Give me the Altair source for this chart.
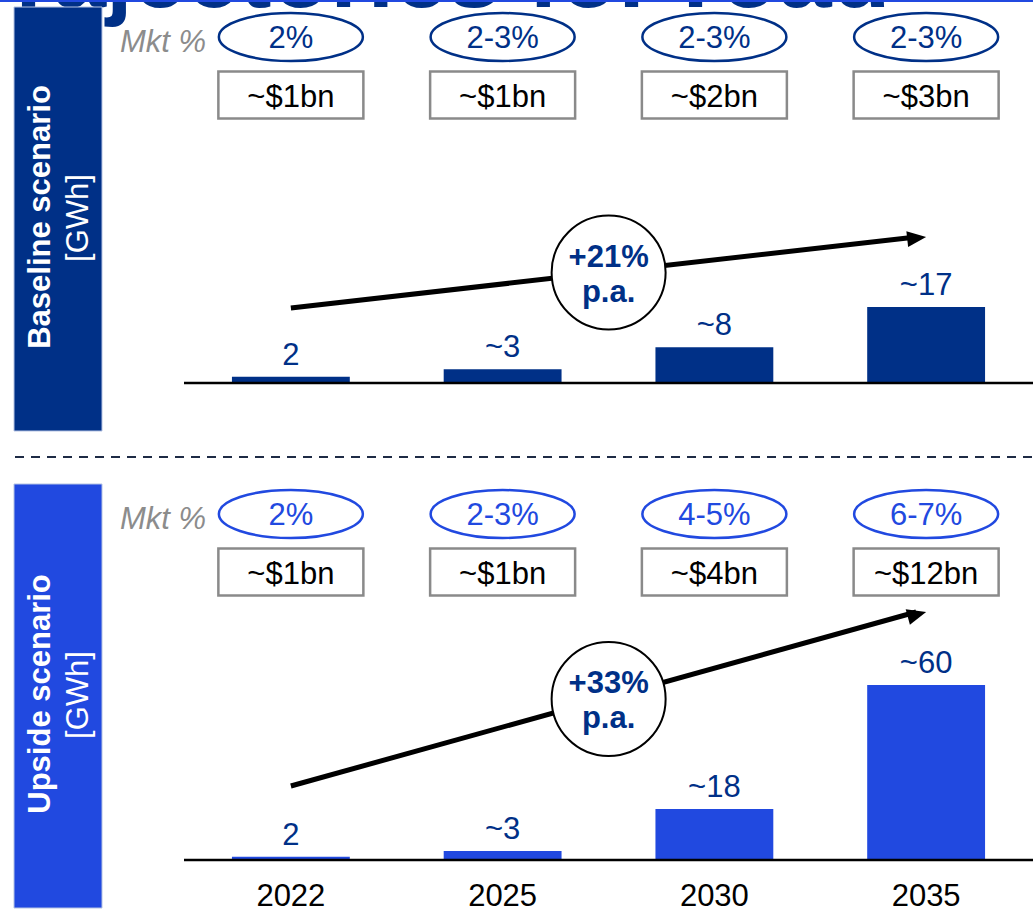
import altair as alt
import pandas as pd

# ---------------- data ----------------
years = ["2022", "2025", "2030", "2035"]
base_vals = [1.4, 3.1, 8.0, 17.0]
base_labels = ["2", "~3", "~8", "~17"]
up_vals = [1.1, 3.1, 17.5, 60.0]
up_labels = ["2", "~3", "~18", "~60"]
base_mkt = ["2%", "2-3%", "2-3%", "2-3%"]
up_mkt = ["2%", "2-3%", "4-5%", "6-7%"]
base_usd = ["~$1bn", "~$1bn", "~$2bn", "~$3bn"]
up_usd = ["~$1bn", "~$1bn", "~$4bn", "~$12bn"]
cagr = ["+21%", "+33%"]
cagr_unit = "p.a."
scenario_titles = ["Baseline scenario", "Upside scenario"]
unit_label = "[GWh]"
mkt_label = "Mkt %"
page_title = "Trajectories for road"

# ---------------- style ----------------
W, H, LEFT = 849, 913, 184
DARK = "#003087"
BRIGHT = "#2149E0"
FONT = "Liberation Sans"
FS = 31

XS = alt.Scale(domain=years, paddingInner=0.4434, paddingOuter=0.2264)

ELLIPSE = "M-1,0 A1,0.333 0 1,1 1,0 A1,0.333 0 1,1 -1,0 Z"
BOX = "M-1,-0.324 L1,-0.324 L1,0.324 L-1,0.324 Z"
HEAD = "M0,0 L-1,-0.42 L-1,0.42 Z"

one = pd.DataFrame({"a": [0]})


def panel(vals, labels, mkt, usd, growth, title, off, baseline, top, ymax,
          color, ell_color, ay0, ay1, head_angle):
    df = pd.DataFrame({"year": years, "value": vals, "label": labels,
                       "mkt": mkt, "usd": usd})
    X = alt.X("year:N", scale=XS, axis=None)
    YS = alt.Scale(domain=[0, ymax], range=[baseline, top])
    Y = alt.Y("value:Q", scale=YS, axis=None)
    layers = []
    # side box
    layers.append(alt.Chart(one).mark_rect(color=color, stroke="#b5c3e3", strokeWidth=1).encode(
        x=alt.value(14 - LEFT), x2=alt.value(102 - LEFT),
        y=alt.value(7 + off), y2=alt.value(431 + off)))
    layers.append(alt.Chart(pd.DataFrame({"t": [title]})).mark_text(
        angle=270, font=FONT, fontSize=FS, fontWeight="bold", color="white",
        align="center", baseline="middle").encode(
        x=alt.value(41 - LEFT), y=alt.value(217 + off), text="t:N"))
    layers.append(alt.Chart(pd.DataFrame({"t": [unit_label]})).mark_text(
        angle=270, font=FONT, fontSize=FS, color="white",
        align="center", baseline="middle").encode(
        x=alt.value(79 - LEFT), y=alt.value(218 + off), text="t:N"))
    # Mkt %
    layers.append(alt.Chart(pd.DataFrame({"t": [mkt_label]})).mark_text(
        font=FONT, fontSize=FS, fontStyle="italic", color="#8c8c8c",
        align="right", baseline="alphabetic").encode(
        x=alt.value(206 - LEFT), y=alt.value(52 + off), text="t:N"))
    # ellipses
    layers.append(alt.Chart(df).mark_point(
        shape=ELLIPSE, size=144 ** 2, filled=False, stroke=ell_color,
        strokeWidth=2.5, opacity=1).encode(x=X, y=alt.value(37 + off)))
    layers.append(alt.Chart(df).mark_text(
        font=FONT, fontSize=FS, color=ell_color, baseline="alphabetic").encode(
        x=X, y=alt.value(48 + off), text="mkt:N"))
    # boxes
    layers.append(alt.Chart(df).mark_point(
        shape=BOX, size=145 ** 2, filled=False, stroke="#8a8a8a",
        strokeWidth=2.5, opacity=1).encode(x=X, y=alt.value(95 + off)))
    layers.append(alt.Chart(df).mark_text(
        font=FONT, fontSize=FS, color="black", baseline="alphabetic").encode(
        x=X, y=alt.value(107 + off), text="usd:N"))
    # bars
    layers.append(alt.Chart(df).mark_bar(color=color).encode(x=X, y=Y))
    layers.append(alt.Chart(df).mark_text(
        font=FONT, fontSize=FS, color=DARK, baseline="alphabetic", dy=-12).encode(
        x=X, y=Y, text="label:N"))
    # baseline
    layers.append(alt.Chart(one).mark_rule(color="black", strokeWidth=2.5).encode(
        x=alt.value(0), x2=alt.value(W), y=alt.value(baseline)))
    # growth arrow
    adf = pd.DataFrame({"start": [years[0]], "end": [years[-1]]})
    layers.append(alt.Chart(adf).mark_rule(color="black", strokeWidth=5, x2Offset=-10).encode(
        x=alt.X("start:N", scale=XS, axis=None), x2="end:N",
        y=alt.value(ay0), y2=alt.value(ay1)))
    layers.append(alt.Chart(adf).mark_point(
        shape=HEAD, size=38 ** 2, filled=True, color="black", opacity=1,
        angle=head_angle).encode(
        x=alt.X("end:N", scale=XS, axis=None), y=alt.value(ay1)))
    cy = (ay0 + ay1) / 2
    cdf = pd.DataFrame({"year": [years[1]], "g": [growth], "u": [cagr_unit]})
    layers.append(alt.Chart(cdf).mark_point(
        shape="circle", size=114 ** 2, filled=True, fill="white", stroke="black",
        strokeWidth=2, opacity=1, xOffset=106).encode(x=X, y=alt.value(cy)))
    layers.append(alt.Chart(cdf).mark_text(
        font=FONT, fontSize=FS, fontWeight="bold", color=DARK,
        baseline="alphabetic", xOffset=106).encode(
        x=X, y=alt.value(cy - 6), text="g:N"))
    layers.append(alt.Chart(cdf).mark_text(
        font=FONT, fontSize=FS, fontWeight="bold", color=DARK,
        baseline="alphabetic", xOffset=106).encode(
        x=X, y=alt.value(cy + 29), text="u:N"))
    return layers


top_layers = []
# clipped page title and top rule
top_layers.append(alt.Chart(pd.DataFrame({"t": [page_title]})).mark_text(
    font=FONT, fontSize=96, fontWeight="bold", color=DARK, align="left",
    baseline="alphabetic").encode(x=alt.value(-38 - LEFT), y=alt.value(7), text="t:N"))
top_layers.append(alt.Chart(one).mark_rule(color=BRIGHT, strokeWidth=2).encode(
    x=alt.value(-LEFT), x2=alt.value(W), y=alt.value(1)))

top_layers += panel(base_vals, base_labels, base_mkt, base_usd, cagr[0],
                    scenario_titles[0], 0, 383, 0, 85.7, DARK, DARK,
                    308, 237, 353.6)
# dashed separator
top_layers.append(alt.Chart(one).mark_rule(color="#1e2b45", strokeWidth=2, strokeDash=[9, 7]).encode(
    x=alt.value(15 - LEFT), x2=alt.value(W), y=alt.value(457)))

bot_layers = panel(up_vals, up_labels, up_mkt, up_usd, cagr[1],
                   scenario_titles[1], 477, 860, 460, 137.1, BRIGHT, BRIGHT,
                   786, 612, 344.7)

# year labels
bot_layers.append(alt.Chart(pd.DataFrame({"year": years})).mark_text(
    font=FONT, fontSize=FS, color="black", baseline="alphabetic").encode(
    x=alt.X("year:N", scale=XS, axis=None), y=alt.value(906), text="year:N"))

chart = alt.layer(*(top_layers + bot_layers)).resolve_scale(
    y="independent"
).properties(
    width=W, height=H,
    padding={"left": LEFT, "top": 0, "right": 0, "bottom": 0},
    autosize=alt.AutoSizeParams(type="none"),
    background="white",
).configure_view(stroke=None)

chart.save("out.html", embed_options={"renderer": "svg", "actions": False})
